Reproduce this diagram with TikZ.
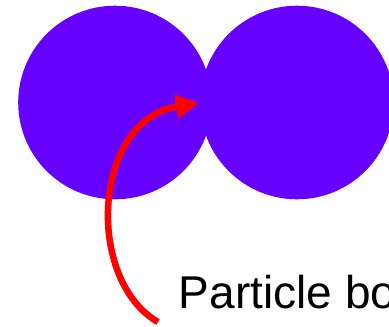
\documentclass[tikz,border=0pt]{standalone}
\usepackage{fontspec}
\setmainfont{Liberation Sans}
\usetikzlibrary{arrows.meta}
\definecolor{blobviolet}{RGB}{102,0,255}
\definecolor{arrowred}{RGB}{255,0,0}
\begin{document}
\begin{tikzpicture}[x=1pt,y=-1pt,
  particle/.style={fill=blobviolet,draw=none},
  pointer/.style={draw=arrowred,line width=6.5pt,-{Triangle[length=23pt,width=23pt]}},
  labeltext/.style={font=\fontsize{46}{52}\selectfont,inner sep=0pt,anchor=base west}]
\useasboundingbox (0,0) rectangle (389,327);
\fill[particle] (115,102.5) circle (96.8);
\fill[particle] (297,102.5) circle (96.8);
\coordinate (start) at (158,322);
\coordinate (tip) at (199,103);
\draw[pointer] (start) .. controls (85,280) and (92,120) .. (tip);
\node[labeltext] (label) at (178.7,308.5) {Particle bo};
\end{tikzpicture}
\end{document}
